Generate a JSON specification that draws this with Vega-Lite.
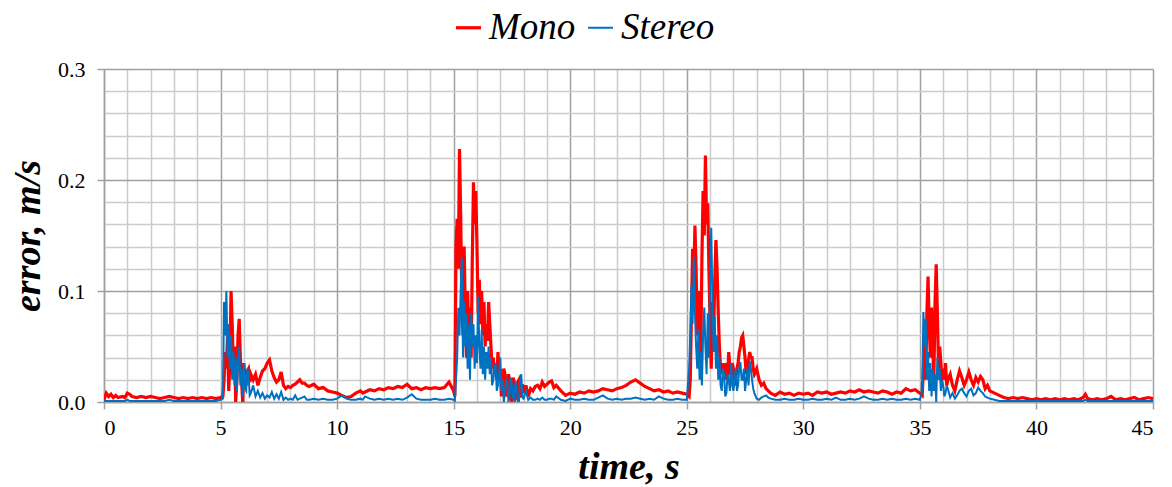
{
"$schema": "https://vega.github.io/schema/vega-lite/v6.json",
"width": 1049, "height": 333,
"autosize": "none",
"padding": {"left": 104, "top": 69, "right": 19, "bottom": 85},
"background": "white",
"config": {"view": {"stroke": null}, "font": "Times New Roman"},
"data": {"values": [
{"t":0.0,"Mono":0.002,"Stereo":0.001},{"t":0.1,"Mono":0.008,"Stereo":0.001},{"t":0.2,"Mono":0.005,"Stereo":0.001},{"t":0.3,"Mono":0.007,"Stereo":0.001},{"t":0.4,"Mono":0.004,"Stereo":0.001},{"t":0.5,"Mono":0.006,"Stereo":0.001},{"t":0.6,"Mono":0.004,"Stereo":0.001},{"t":0.8,"Mono":0.005,"Stereo":0.001},{"t":0.9,"Mono":0.004,"Stereo":0.001},{"t":1.0,"Mono":0.008,"Stereo":0.002},{"t":1.1,"Mono":0.007,"Stereo":0.001},{"t":1.2,"Mono":0.005,"Stereo":0.001},{"t":1.4,"Mono":0.004,"Stereo":0.001},{"t":1.6,"Mono":0.005,"Stereo":0.001},{"t":1.8,"Mono":0.004,"Stereo":0.001},{"t":2.0,"Mono":0.005,"Stereo":0.001},{"t":2.2,"Mono":0.004,"Stereo":0.001},{"t":2.4,"Mono":0.003,"Stereo":0.001},{"t":2.6,"Mono":0.004,"Stereo":0.001},{"t":2.8,"Mono":0.005,"Stereo":0.002},{"t":3.0,"Mono":0.004,"Stereo":0.001},{"t":3.2,"Mono":0.003,"Stereo":0.001},{"t":3.4,"Mono":0.004,"Stereo":0.001},{"t":3.6,"Mono":0.003,"Stereo":0.001},{"t":3.8,"Mono":0.004,"Stereo":0.001},{"t":4.0,"Mono":0.003,"Stereo":0.001},{"t":4.2,"Mono":0.004,"Stereo":0.001},{"t":4.4,"Mono":0.003,"Stereo":0.001},{"t":4.6,"Mono":0.004,"Stereo":0.001},{"t":4.8,"Mono":0.003,"Stereo":0.001},{"t":5.0,"Mono":0.004,"Stereo":0.002},
{"t":5.1,"Mono":0.005,"Stereo":0.003},{"t":5.15,"Mono":0.02,"Stereo":0.09},{"t":5.2,"Mono":0.045,"Stereo":0.06},{"t":5.25,"Mono":0.03,"Stereo":0.1},{"t":5.3,"Mono":0.06,"Stereo":0.04},{"t":5.35,"Mono":0.01,"Stereo":0.07},{"t":5.4,"Mono":0.035,"Stereo":0.03},{"t":5.45,"Mono":0.1,"Stereo":0.06},{"t":5.5,"Mono":0.07,"Stereo":0.02},{"t":5.55,"Mono":0.03,"Stereo":0.045},{"t":5.6,"Mono":0.05,"Stereo":0.015},{"t":5.65,"Mono":0.0,"Stereo":0.04},{"t":5.7,"Mono":0.02,"Stereo":0.01},{"t":5.75,"Mono":0.06,"Stereo":0.035},{"t":5.8,"Mono":0.075,"Stereo":0.05},{"t":5.85,"Mono":0.04,"Stereo":0.015},{"t":5.9,"Mono":0.02,"Stereo":0.03},{"t":5.95,"Mono":0.0,"Stereo":0.005},{"t":6.0,"Mono":0.035,"Stereo":0.035},{"t":6.05,"Mono":0.02,"Stereo":0.012},{"t":6.1,"Mono":0.015,"Stereo":0.01},{"t":6.15,"Mono":0.028,"Stereo":0.03},{"t":6.2,"Mono":0.03,"Stereo":0.025},{"t":6.25,"Mono":0.018,"Stereo":0.006},{"t":6.3,"Mono":0.025,"Stereo":0.008},{"t":6.4,"Mono":0.02,"Stereo":0.015},{"t":6.5,"Mono":0.025,"Stereo":0.005},{"t":6.6,"Mono":0.015,"Stereo":0.01},{"t":6.7,"Mono":0.022,"Stereo":0.004},{"t":6.8,"Mono":0.028,"Stereo":0.008},{"t":6.9,"Mono":0.03,"Stereo":0.003},{"t":7.0,"Mono":0.035,"Stereo":0.006},{"t":7.1,"Mono":0.038,"Stereo":0.004},{"t":7.2,"Mono":0.028,"Stereo":0.009},{"t":7.3,"Mono":0.022,"Stereo":0.003},{"t":7.4,"Mono":0.018,"Stereo":0.007},{"t":7.5,"Mono":0.02,"Stereo":0.003},{"t":7.6,"Mono":0.027,"Stereo":0.009},{"t":7.7,"Mono":0.015,"Stereo":0.002},{"t":7.8,"Mono":0.012,"Stereo":0.004},{"t":7.9,"Mono":0.014,"Stereo":0.002},{"t":8.0,"Mono":0.013,"Stereo":0.003},{"t":8.1,"Mono":0.015,"Stereo":0.002},{"t":8.2,"Mono":0.016,"Stereo":0.006},{"t":8.3,"Mono":0.018,"Stereo":0.002},{"t":8.4,"Mono":0.02,"Stereo":0.003},{"t":8.5,"Mono":0.017,"Stereo":0.004},{"t":8.6,"Mono":0.017,"Stereo":0.005},{"t":8.7,"Mono":0.015,"Stereo":0.002},{"t":8.8,"Mono":0.014,"Stereo":0.002},{"t":9.0,"Mono":0.016,"Stereo":0.003},{"t":9.2,"Mono":0.012,"Stereo":0.002},{"t":9.4,"Mono":0.013,"Stereo":0.003},{"t":9.6,"Mono":0.01,"Stereo":0.002},{"t":9.8,"Mono":0.009,"Stereo":0.002},{"t":10.0,"Mono":0.008,"Stereo":0.003},
{"t":10.2,"Mono":0.006,"Stereo":0.006},{"t":10.4,"Mono":0.004,"Stereo":0.003},{"t":10.6,"Mono":0.005,"Stereo":0.002},{"t":10.8,"Mono":0.008,"Stereo":0.002},{"t":11.0,"Mono":0.01,"Stereo":0.003},{"t":11.1,"Mono":0.008,"Stereo":0.002},{"t":11.2,"Mono":0.009,"Stereo":0.005},{"t":11.4,"Mono":0.011,"Stereo":0.003},{"t":11.6,"Mono":0.01,"Stereo":0.002},{"t":11.8,"Mono":0.012,"Stereo":0.003},{"t":12.0,"Mono":0.011,"Stereo":0.002},{"t":12.2,"Mono":0.013,"Stereo":0.003},{"t":12.4,"Mono":0.012,"Stereo":0.002},{"t":12.6,"Mono":0.014,"Stereo":0.003},{"t":12.8,"Mono":0.013,"Stereo":0.002},{"t":13.0,"Mono":0.016,"Stereo":0.004},{"t":13.2,"Mono":0.012,"Stereo":0.007},{"t":13.4,"Mono":0.013,"Stereo":0.003},{"t":13.6,"Mono":0.011,"Stereo":0.002},{"t":13.8,"Mono":0.013,"Stereo":0.002},{"t":14.0,"Mono":0.012,"Stereo":0.002},{"t":14.2,"Mono":0.013,"Stereo":0.003},{"t":14.4,"Mono":0.012,"Stereo":0.002},{"t":14.6,"Mono":0.013,"Stereo":0.002},{"t":14.8,"Mono":0.018,"Stereo":0.003},{"t":15.0,"Mono":0.01,"Stereo":0.002},
{"t":15.05,"Mono":0.005,"Stereo":0.001},{"t":15.1,"Mono":0.14,"Stereo":0.02},{"t":15.15,"Mono":0.165,"Stereo":0.04},{"t":15.2,"Mono":0.12,"Stereo":0.085},{"t":15.25,"Mono":0.228,"Stereo":0.06},{"t":15.3,"Mono":0.17,"Stereo":0.1},{"t":15.35,"Mono":0.09,"Stereo":0.13},{"t":15.4,"Mono":0.06,"Stereo":0.04},{"t":15.45,"Mono":0.14,"Stereo":0.09},{"t":15.5,"Mono":0.08,"Stereo":0.05},{"t":15.55,"Mono":0.04,"Stereo":0.08},{"t":15.6,"Mono":0.1,"Stereo":0.03},{"t":15.65,"Mono":0.06,"Stereo":0.07},{"t":15.7,"Mono":0.085,"Stereo":0.02},{"t":15.75,"Mono":0.04,"Stereo":0.08},{"t":15.8,"Mono":0.13,"Stereo":0.05},{"t":15.85,"Mono":0.198,"Stereo":0.07},{"t":15.9,"Mono":0.16,"Stereo":0.03},{"t":15.95,"Mono":0.19,"Stereo":0.06},{"t":16.0,"Mono":0.14,"Stereo":0.035},{"t":16.05,"Mono":0.08,"Stereo":0.095},{"t":16.1,"Mono":0.11,"Stereo":0.05},{"t":16.15,"Mono":0.07,"Stereo":0.03},{"t":16.2,"Mono":0.1,"Stereo":0.065},{"t":16.25,"Mono":0.06,"Stereo":0.025},{"t":16.3,"Mono":0.09,"Stereo":0.05},{"t":16.35,"Mono":0.05,"Stereo":0.02},{"t":16.4,"Mono":0.07,"Stereo":0.045},{"t":16.45,"Mono":0.055,"Stereo":0.03},{"t":16.5,"Mono":0.09,"Stereo":0.05},{"t":16.55,"Mono":0.07,"Stereo":0.025},{"t":16.6,"Mono":0.05,"Stereo":0.04},{"t":16.65,"Mono":0.03,"Stereo":0.015},{"t":16.7,"Mono":0.04,"Stereo":0.02},{"t":16.75,"Mono":0.025,"Stereo":0.03},{"t":16.8,"Mono":0.03,"Stereo":0.035},{"t":16.85,"Mono":0.02,"Stereo":0.01},{"t":16.9,"Mono":0.045,"Stereo":0.015},{"t":16.95,"Mono":0.02,"Stereo":0.025},{"t":17.0,"Mono":0.03,"Stereo":0.04},{"t":17.05,"Mono":0.005,"Stereo":0.01},{"t":17.1,"Mono":0.015,"Stereo":0.02},{"t":17.15,"Mono":0.03,"Stereo":0.0},{"t":17.2,"Mono":0.025,"Stereo":0.008},{"t":17.25,"Mono":0.005,"Stereo":0.02},{"t":17.3,"Mono":0.012,"Stereo":0.018},{"t":17.35,"Mono":0.025,"Stereo":0.0},{"t":17.4,"Mono":0.02,"Stereo":0.005},{"t":17.45,"Mono":0.008,"Stereo":0.022},{"t":17.5,"Mono":0.0,"Stereo":0.015},{"t":17.55,"Mono":0.022,"Stereo":0.004},{"t":17.6,"Mono":0.018,"Stereo":0.002},{"t":17.65,"Mono":0.003,"Stereo":0.018},{"t":17.7,"Mono":0.005,"Stereo":0.012},{"t":17.75,"Mono":0.018,"Stereo":0.001},{"t":17.8,"Mono":0.02,"Stereo":0.0},{"t":17.85,"Mono":0.004,"Stereo":0.02},{"t":17.9,"Mono":0.01,"Stereo":0.025},{"t":17.95,"Mono":0.016,"Stereo":0.004},{"t":18.0,"Mono":0.008,"Stereo":0.003},{"t":18.1,"Mono":0.015,"Stereo":0.01},{"t":18.2,"Mono":0.005,"Stereo":0.002},{"t":18.3,"Mono":0.012,"Stereo":0.004},{"t":18.4,"Mono":0.01,"Stereo":0.002},{"t":18.5,"Mono":0.014,"Stereo":0.002},{"t":18.6,"Mono":0.015,"Stereo":0.003},{"t":18.7,"Mono":0.012,"Stereo":0.002},{"t":18.8,"Mono":0.018,"Stereo":0.004},{"t":18.9,"Mono":0.014,"Stereo":0.002},{"t":19.0,"Mono":0.016,"Stereo":0.002},{"t":19.1,"Mono":0.018,"Stereo":0.003},{"t":19.2,"Mono":0.019,"Stereo":0.003},{"t":19.3,"Mono":0.013,"Stereo":0.002},{"t":19.4,"Mono":0.015,"Stereo":0.005},{"t":19.6,"Mono":0.01,"Stereo":0.002},{"t":19.8,"Mono":0.006,"Stereo":0.001},
{"t":20.0,"Mono":0.008,"Stereo":0.003},{"t":20.2,"Mono":0.007,"Stereo":0.002},{"t":20.4,"Mono":0.009,"Stereo":0.002},{"t":20.6,"Mono":0.008,"Stereo":0.003},{"t":20.8,"Mono":0.01,"Stereo":0.002},{"t":21.0,"Mono":0.009,"Stereo":0.002},{"t":21.2,"Mono":0.01,"Stereo":0.004},{"t":21.4,"Mono":0.012,"Stereo":0.006},{"t":21.6,"Mono":0.011,"Stereo":0.003},{"t":21.8,"Mono":0.01,"Stereo":0.002},{"t":22.0,"Mono":0.012,"Stereo":0.003},{"t":22.2,"Mono":0.013,"Stereo":0.002},{"t":22.4,"Mono":0.015,"Stereo":0.003},{"t":22.6,"Mono":0.018,"Stereo":0.003},{"t":22.8,"Mono":0.02,"Stereo":0.004},{"t":23.0,"Mono":0.017,"Stereo":0.003},{"t":23.2,"Mono":0.014,"Stereo":0.002},{"t":23.4,"Mono":0.012,"Stereo":0.003},{"t":23.6,"Mono":0.01,"Stereo":0.002},{"t":23.8,"Mono":0.011,"Stereo":0.005},{"t":24.0,"Mono":0.009,"Stereo":0.003},{"t":24.2,"Mono":0.01,"Stereo":0.002},{"t":24.4,"Mono":0.008,"Stereo":0.002},{"t":24.6,"Mono":0.009,"Stereo":0.003},{"t":24.8,"Mono":0.008,"Stereo":0.002},{"t":25.0,"Mono":0.007,"Stereo":0.002},
{"t":25.1,"Mono":0.005,"Stereo":0.03},{"t":25.15,"Mono":0.02,"Stereo":0.06},{"t":25.2,"Mono":0.08,"Stereo":0.105},{"t":25.25,"Mono":0.138,"Stereo":0.07},{"t":25.3,"Mono":0.11,"Stereo":0.13},{"t":25.35,"Mono":0.159,"Stereo":0.08},{"t":25.4,"Mono":0.12,"Stereo":0.05},{"t":25.45,"Mono":0.06,"Stereo":0.03},{"t":25.5,"Mono":0.1,"Stereo":0.065},{"t":25.55,"Mono":0.075,"Stereo":0.02},{"t":25.6,"Mono":0.04,"Stereo":0.045},{"t":25.65,"Mono":0.13,"Stereo":0.015},{"t":25.7,"Mono":0.19,"Stereo":0.06},{"t":25.75,"Mono":0.15,"Stereo":0.085},{"t":25.8,"Mono":0.222,"Stereo":0.05},{"t":25.85,"Mono":0.16,"Stereo":0.025},{"t":25.9,"Mono":0.179,"Stereo":0.08},{"t":25.95,"Mono":0.12,"Stereo":0.04},{"t":26.0,"Mono":0.07,"Stereo":0.11},{"t":26.05,"Mono":0.03,"Stereo":0.157},{"t":26.1,"Mono":0.09,"Stereo":0.09},{"t":26.15,"Mono":0.06,"Stereo":0.045},{"t":26.2,"Mono":0.11,"Stereo":0.077},{"t":26.25,"Mono":0.146,"Stereo":0.03},{"t":26.3,"Mono":0.12,"Stereo":0.06},{"t":26.35,"Mono":0.08,"Stereo":0.02},{"t":26.4,"Mono":0.05,"Stereo":0.04},{"t":26.45,"Mono":0.03,"Stereo":0.015},{"t":26.5,"Mono":0.025,"Stereo":0.01},{"t":26.55,"Mono":0.035,"Stereo":0.03},{"t":26.6,"Mono":0.02,"Stereo":0.025},{"t":26.65,"Mono":0.03,"Stereo":0.005},{"t":26.7,"Mono":0.035,"Stereo":0.008},{"t":26.75,"Mono":0.02,"Stereo":0.025},{"t":26.8,"Mono":0.045,"Stereo":0.02},{"t":26.85,"Mono":0.03,"Stereo":0.01},{"t":26.9,"Mono":0.025,"Stereo":0.035},{"t":26.95,"Mono":0.035,"Stereo":0.015},{"t":27.0,"Mono":0.03,"Stereo":0.01},{"t":27.05,"Mono":0.015,"Stereo":0.02},{"t":27.1,"Mono":0.02,"Stereo":0.03},{"t":27.15,"Mono":0.03,"Stereo":0.01},{"t":27.2,"Mono":0.035,"Stereo":0.015},{"t":27.25,"Mono":0.045,"Stereo":0.03},{"t":27.3,"Mono":0.05,"Stereo":0.036},{"t":27.35,"Mono":0.058,"Stereo":0.02},{"t":27.4,"Mono":0.06,"Stereo":0.02},{"t":27.45,"Mono":0.05,"Stereo":0.03},{"t":27.5,"Mono":0.04,"Stereo":0.01},{"t":27.55,"Mono":0.025,"Stereo":0.02},{"t":27.6,"Mono":0.03,"Stereo":0.03},{"t":27.65,"Mono":0.038,"Stereo":0.015},{"t":27.7,"Mono":0.045,"Stereo":0.037},{"t":27.75,"Mono":0.04,"Stereo":0.03},{"t":27.8,"Mono":0.04,"Stereo":0.02},{"t":27.85,"Mono":0.03,"Stereo":0.012},{"t":27.9,"Mono":0.025,"Stereo":0.008},{"t":28.0,"Mono":0.03,"Stereo":0.003},{"t":28.1,"Mono":0.02,"Stereo":0.002},{"t":28.2,"Mono":0.015,"Stereo":0.004},{"t":28.3,"Mono":0.017,"Stereo":0.005},{"t":28.4,"Mono":0.012,"Stereo":0.006},{"t":28.5,"Mono":0.01,"Stereo":0.004},{"t":28.6,"Mono":0.008,"Stereo":0.003},{"t":28.8,"Mono":0.006,"Stereo":0.002},{"t":29.0,"Mono":0.009,"Stereo":0.002},{"t":29.2,"Mono":0.007,"Stereo":0.003},{"t":29.4,"Mono":0.008,"Stereo":0.002},{"t":29.6,"Mono":0.006,"Stereo":0.002},{"t":29.8,"Mono":0.008,"Stereo":0.003},
{"t":30.0,"Mono":0.007,"Stereo":0.002},{"t":30.2,"Mono":0.008,"Stereo":0.002},{"t":30.4,"Mono":0.006,"Stereo":0.003},{"t":30.6,"Mono":0.009,"Stereo":0.002},{"t":30.8,"Mono":0.008,"Stereo":0.002},{"t":31.0,"Mono":0.009,"Stereo":0.003},{"t":31.2,"Mono":0.007,"Stereo":0.002},{"t":31.4,"Mono":0.008,"Stereo":0.004},{"t":31.6,"Mono":0.009,"Stereo":0.002},{"t":31.8,"Mono":0.008,"Stereo":0.002},{"t":32.0,"Mono":0.01,"Stereo":0.003},{"t":32.2,"Mono":0.009,"Stereo":0.002},{"t":32.4,"Mono":0.011,"Stereo":0.003},{"t":32.6,"Mono":0.009,"Stereo":0.005},{"t":32.8,"Mono":0.01,"Stereo":0.003},{"t":33.0,"Mono":0.009,"Stereo":0.002},{"t":33.2,"Mono":0.008,"Stereo":0.002},{"t":33.4,"Mono":0.01,"Stereo":0.003},{"t":33.6,"Mono":0.009,"Stereo":0.002},{"t":33.8,"Mono":0.007,"Stereo":0.003},{"t":34.0,"Mono":0.009,"Stereo":0.002},{"t":34.2,"Mono":0.008,"Stereo":0.002},{"t":34.4,"Mono":0.012,"Stereo":0.003},{"t":34.6,"Mono":0.01,"Stereo":0.002},{"t":34.8,"Mono":0.011,"Stereo":0.003},{"t":35.0,"Mono":0.008,"Stereo":0.002},
{"t":35.1,"Mono":0.006,"Stereo":0.01},{"t":35.15,"Mono":0.03,"Stereo":0.081},{"t":35.2,"Mono":0.06,"Stereo":0.05},{"t":35.25,"Mono":0.02,"Stereo":0.075},{"t":35.3,"Mono":0.08,"Stereo":0.02},{"t":35.35,"Mono":0.113,"Stereo":0.045},{"t":35.4,"Mono":0.07,"Stereo":0.01},{"t":35.45,"Mono":0.04,"Stereo":0.035},{"t":35.5,"Mono":0.085,"Stereo":0.005},{"t":35.55,"Mono":0.05,"Stereo":0.03},{"t":35.6,"Mono":0.02,"Stereo":0.01},{"t":35.65,"Mono":0.09,"Stereo":0.025},{"t":35.7,"Mono":0.124,"Stereo":0.0},{"t":35.75,"Mono":0.08,"Stereo":0.04},{"t":35.8,"Mono":0.03,"Stereo":0.02},{"t":35.85,"Mono":0.05,"Stereo":0.03},{"t":35.9,"Mono":0.035,"Stereo":0.01},{"t":35.95,"Mono":0.02,"Stereo":0.02},{"t":36.0,"Mono":0.03,"Stereo":0.015},{"t":36.05,"Mono":0.02,"Stereo":0.005},{"t":36.1,"Mono":0.035,"Stereo":0.008},{"t":36.15,"Mono":0.015,"Stereo":0.015},{"t":36.2,"Mono":0.02,"Stereo":0.012},{"t":36.3,"Mono":0.025,"Stereo":0.004},{"t":36.4,"Mono":0.015,"Stereo":0.008},{"t":36.5,"Mono":0.01,"Stereo":0.003},{"t":36.6,"Mono":0.02,"Stereo":0.006},{"t":36.7,"Mono":0.028,"Stereo":0.01},{"t":36.8,"Mono":0.022,"Stereo":0.012},{"t":36.9,"Mono":0.015,"Stereo":0.008},{"t":37.0,"Mono":0.02,"Stereo":0.005},{"t":37.1,"Mono":0.027,"Stereo":0.01},{"t":37.2,"Mono":0.02,"Stereo":0.012},{"t":37.3,"Mono":0.015,"Stereo":0.006},{"t":37.4,"Mono":0.022,"Stereo":0.008},{"t":37.5,"Mono":0.018,"Stereo":0.013},{"t":37.6,"Mono":0.023,"Stereo":0.01},{"t":37.7,"Mono":0.02,"Stereo":0.008},{"t":37.8,"Mono":0.012,"Stereo":0.005},{"t":37.9,"Mono":0.015,"Stereo":0.004},{"t":38.0,"Mono":0.01,"Stereo":0.003},{"t":38.2,"Mono":0.008,"Stereo":0.002},{"t":38.4,"Mono":0.006,"Stereo":0.001},{"t":38.6,"Mono":0.004,"Stereo":0.001},{"t":38.8,"Mono":0.003,"Stereo":0.001},{"t":39.0,"Mono":0.004,"Stereo":0.001},{"t":39.2,"Mono":0.003,"Stereo":0.001},{"t":39.4,"Mono":0.004,"Stereo":0.001},{"t":39.6,"Mono":0.003,"Stereo":0.001},{"t":39.8,"Mono":0.002,"Stereo":0.001},
{"t":40.0,"Mono":0.003,"Stereo":0.001},{"t":40.2,"Mono":0.002,"Stereo":0.001},{"t":40.4,"Mono":0.003,"Stereo":0.001},{"t":40.6,"Mono":0.002,"Stereo":0.001},{"t":40.8,"Mono":0.003,"Stereo":0.001},{"t":41.0,"Mono":0.002,"Stereo":0.001},{"t":41.2,"Mono":0.003,"Stereo":0.001},{"t":41.4,"Mono":0.002,"Stereo":0.001},{"t":41.6,"Mono":0.003,"Stereo":0.001},{"t":41.8,"Mono":0.002,"Stereo":0.001},{"t":42.0,"Mono":0.004,"Stereo":0.001},{"t":42.1,"Mono":0.007,"Stereo":0.002},{"t":42.2,"Mono":0.003,"Stereo":0.001},{"t":42.4,"Mono":0.002,"Stereo":0.001},{"t":42.6,"Mono":0.003,"Stereo":0.001},{"t":42.8,"Mono":0.002,"Stereo":0.001},{"t":43.0,"Mono":0.003,"Stereo":0.001},{"t":43.2,"Mono":0.005,"Stereo":0.001},{"t":43.4,"Mono":0.002,"Stereo":0.001},{"t":43.6,"Mono":0.003,"Stereo":0.001},{"t":43.8,"Mono":0.002,"Stereo":0.001},{"t":44.0,"Mono":0.003,"Stereo":0.001},{"t":44.2,"Mono":0.004,"Stereo":0.001},{"t":44.4,"Mono":0.002,"Stereo":0.001},{"t":44.6,"Mono":0.003,"Stereo":0.001},{"t":44.8,"Mono":0.004,"Stereo":0.001},{"t":45.0,"Mono":0.003,"Stereo":0.001}
]},
"transform": [{"fold": ["Mono", "Stereo"], "as": ["series", "error"]}],
"mark": {"type": "line", "clip": true},
"encoding": {
  "x": {"field": "t", "type": "quantitative",
    "scale": {"domain": [0, 45], "nice": false, "zero": false},
    "axis": {
      "values": [0,1,2,3,4,5,6,7,8,9,10,11,12,13,14,15,16,17,18,19,20,21,22,23,24,25,26,27,28,29,30,31,32,33,34,35,36,37,38,39,40,41,42,43,44,45],
      "labelExpr": "datum.value % 5 === 0 ? datum.label : ''",
      "title": "time, s",
      "titleFont": "Times New Roman", "titleFontSize": 38, "titleFontWeight": "bold", "titleFontStyle": "italic", "titleColor": "#000000", "titlePadding": 10,
      "labelFont": "Times New Roman", "labelFontSize": 22, "labelColor": "#000000", "labelPadding": 8, "labelAngle": 0,
      "tickSize": 7, "tickColor": "#a0a0a0", "tickWidth": 1.5,
      "tickOpacity": {"condition": {"test": "datum.value % 5 === 0", "value": 1}, "value": 0},
      "domainColor": "#a0a0a0", "domainWidth": 1.5,
      "grid": true,
      "gridColor": {"condition": {"test": "datum.value % 5 === 0", "value": "#a0a0a0"}, "value": "#cccccc"},
      "gridWidth": 1.5
    }},
  "y": {"field": "error", "type": "quantitative",
    "scale": {"domain": [0, 0.3], "nice": false},
    "axis": {
      "values": [0,0.02,0.04,0.06,0.08,0.1,0.12,0.14,0.16,0.18,0.2,0.22,0.24,0.26,0.28,0.3],
      "format": ".1f",
      "labelExpr": "abs(datum.value*10 - round(datum.value*10)) < 0.001 ? datum.label : ''",
      "title": "error, m/s",
      "titleFont": "Times New Roman", "titleFontSize": 38, "titleFontWeight": "bold", "titleFontStyle": "italic", "titleColor": "#000000", "titlePadding": 10,
      "labelFont": "Times New Roman", "labelFontSize": 22, "labelColor": "#000000", "labelPadding": 12,
      "tickSize": 7, "tickColor": "#a0a0a0", "tickWidth": 1.5,
      "tickOpacity": {"condition": {"test": "abs(datum.value*10 - round(datum.value*10)) < 0.001", "value": 1}, "value": 0},
      "domainColor": "#a0a0a0", "domainWidth": 1.5,
      "grid": true,
      "gridColor": {"condition": {"test": "abs(datum.value*10 - round(datum.value*10)) < 0.001", "value": "#a0a0a0"}, "value": "#cccccc"},
      "gridWidth": 1.5
    }},
  "color": {"field": "series", "type": "nominal",
    "scale": {"domain": ["Mono", "Stereo"], "range": ["#ff0000", "#0070c0"]},
    "legend": {"title": null, "orient": "none", "direction": "horizontal", "legendX": 346, "legendY": -60,
      "symbolType": "stroke", "symbolSize": 625, "symbolStrokeWidth": 2.5,
      "labelFont": "Times New Roman", "labelFontSize": 37, "labelFontStyle": "italic", "labelColor": "#000000", "labelOffset": 2, "columnPadding": 6}},
  "strokeWidth": {"field": "series", "type": "nominal",
    "scale": {"domain": ["Mono", "Stereo"], "range": [3.2, 2]}, "legend": null}
}
}
